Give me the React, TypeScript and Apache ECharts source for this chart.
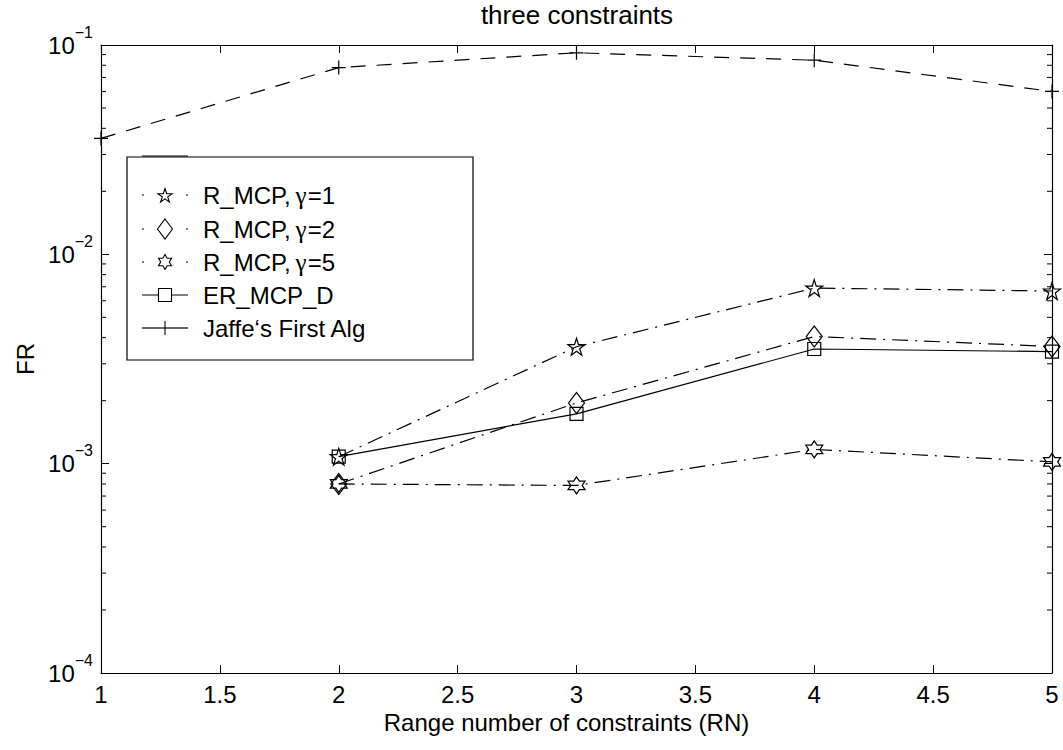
import React, { useEffect, useRef } from 'react';
import * as echarts from 'echarts';

// ---------- data ----------
const RN_ALL = [1, 2, 3, 4, 5];
const RN_SUB = [2, 3, 4, 5];
const JAFFE = [0.0358, 0.078, 0.0918, 0.0846, 0.06];
const R_MCP_G1 = [0.00108, 0.00362, 0.0069, 0.00668];
const R_MCP_G2 = [0.0008, 0.00195, 0.00405, 0.00363];
const R_MCP_G5 = [0.0008, 0.000787, 0.00117, 0.00102];
const ER_MCP_D = [0.00108, 0.00173, 0.00353, 0.00343];
const LEGEND_NAMES = ['R_MCP,γ=1', 'R_MCP,γ=2', 'R_MCP,γ=5', 'ER_MCP_D', 'Jaffe‘s First Alg'];
const Y_DECADES = [1e-4, 1e-3, 1e-2];
const MINOR_MULTS = [2, 3, 4, 5, 6, 7, 8, 9];

const FONT = 'Liberation Sans, Arial, Helvetica, sans-serif';
const SERIF = 'Liberation Serif, Times New Roman, serif';

function starPts(n: number, inner: number): number[][] {
  const pts: number[][] = [];
  for (let i = 0; i < 2 * n; i++) {
    const r = i % 2 === 0 ? 1 : inner;
    const a = -Math.PI / 2 + (i * Math.PI) / n;
    pts.push([r * Math.cos(a), r * Math.sin(a)]);
  }
  return pts;
}
const toPath = (pts: number[][]) =>
  'path://' + pts.map((p, i) => (i ? 'L' : 'M') + p[0].toFixed(4) + ',' + p[1].toFixed(4)).join('') + 'Z';

const STAR5 = starPts(5, 0.382);
const STAR6 = starPts(6, 0.577);
const DIAMOND = [[0, -1], [1, 0], [0, 1], [-1, 0]];
const PLUS_PATH = 'path://M0,-1L0,1M-1,0L1,0';

const DASH = [15, 11];
const DASHDOT = [16, 7, 2, 7];

export default function App() {
  const ref = useRef<HTMLDivElement>(null);
  useEffect(() => {
    if (!ref.current) return;
    const chart = echarts.init(ref.current, undefined, { renderer: 'svg' });

    const minorVals: number[] = [];
    Y_DECADES.forEach((d) => MINOR_MULTS.forEach((m) => minorVals.push(d * m)));

    const baseLine = (name: string, xs: number[], ys: number[], symbol: string, size: any, dash: any) => ({
      name,
      type: 'line',
      data: xs.map((x, i) => [x, ys[i]]),
      symbol,
      symbolSize: size,
      showSymbol: true,
      silent: true,
      lineStyle: { color: '#000', width: 1.2, type: dash },
      itemStyle: { color: 'rgba(0,0,0,0)', borderColor: '#000', borderWidth: 1.2 },
      z: 3,
    });

    const axisCommon = {
      axisLine: { show: true, onZero: false, lineStyle: { color: '#000', width: 1.2 } },
      axisTick: { show: true, inside: true, length: 8, lineStyle: { color: '#000', width: 1 } },
      splitLine: { show: false },
    };

    // legend graphic
    const LX = 127, LY = 157, LW = 346, LH = 203;
    const rowY = [195, 229, 262, 295, 328];
    const icX1 = 142, icX2 = 188, icC = 165, txX = 203;
    const poly = (pts: number[][], cx: number, cy: number, sx: number, sy: number) => ({
      type: 'polygon',
      shape: { points: pts.map((p) => [cx + p[0] * sx, cy + p[1] * sy]) },
      style: { fill: 'none', stroke: '#000', lineWidth: 1.1 },
    });
    const dot = (x: number, y: number) => ({
      type: 'line', shape: { x1: x, y1: y, x2: x + 2, y2: y }, style: { stroke: '#000', lineWidth: 1.2 },
    });
    const seg = (x1: number, x2: number, y: number) => ({
      type: 'line', shape: { x1, y1: y, x2, y2: y }, style: { stroke: '#000', lineWidth: 1.2 },
    });
    const legendChildren: any[] = [
      { type: 'rect', shape: { x: LX, y: LY, width: LW, height: LH }, style: { fill: '#fff', stroke: '#000', lineWidth: 1.2 } },
      seg(icX1, icX2, LY - 1),
      dot(icX1, rowY[0]), dot(icX2 - 2, rowY[0]), poly(STAR5, icC, rowY[0] + 1, 7.5, 7.5),
      dot(icX1, rowY[1]), dot(icX2 - 2, rowY[1]), poly(DIAMOND, icC, rowY[1], 7.5, 10),
      dot(icX1, rowY[2]), dot(icX2 - 2, rowY[2]), poly(STAR6, icC, rowY[2], 7.5, 7.5),
      seg(icX1, icX2, rowY[3]),
      { type: 'rect', shape: { x: icC - 6.5, y: rowY[3] - 6.5, width: 13, height: 13 }, style: { fill: '#fff', stroke: '#000', lineWidth: 1.1 } },
      seg(icX1, icX1 + 16, rowY[4]), seg(icX2 - 16, icX2, rowY[4]),
      seg(icC - 7, icC + 7, rowY[4]),
      { type: 'line', shape: { x1: icC, y1: rowY[4] - 7, x2: icC, y2: rowY[4] + 7 }, style: { stroke: '#000', lineWidth: 1.1 } },
    ];
    LEGEND_NAMES.forEach((n, i) => {
      const gi = n.indexOf('γ');
      const txt = gi >= 0
        ? `{a|${n.slice(0, gi)}}{g|γ}{a|${n.slice(gi + 1)}}`
        : `{a|${n}}`;
      legendChildren.push({
        type: 'text',
        style: {
          text: txt, x: txX, y: rowY[i], fill: '#000', verticalAlign: 'middle', align: 'left',
          rich: {
            a: { fontSize: 24, fontFamily: FONT, fill: '#000', color: '#000' },
            g: { fontSize: 25, fontFamily: SERIF, fill: '#000', color: '#000', padding: [0, 1, 0, 5] },
          },
        },
      });
    });

    const expLabel = (v: number) => {
      const e = Math.round(Math.log10(v));
      return `{b|10}{s|${e < 0 ? '−' : ''}${Math.abs(e)}}`;
    };

    chart.setOption({
      animation: false,
      backgroundColor: '#fff',
      textStyle: { fontFamily: FONT },
      title: {
        text: 'three constraints',
        left: 577,
        textAlign: 'center',
        top: 2,
        padding: 0,
        textStyle: { fontSize: 26, fontWeight: 'normal', color: '#000', fontFamily: FONT },
      },
      grid: { left: 101, right: 11, top: 45, bottom: 77, containLabel: false, outerBoundsMode: 'none' },
      xAxis: [
        {
          type: 'value', min: 1, max: 5, interval: 0.5, position: 'bottom',
          ...axisCommon,
          axisLabel: { show: true, color: '#000', fontSize: 24, fontFamily: FONT, margin: 9 },
          name: 'Range number of constraints (RN)',
          nameLocation: 'middle',
          nameGap: 37,
          nameTextStyle: { fontSize: 24, color: '#000', fontFamily: FONT, padding: [0, 20, 0, 0] },
        },
        {
          type: 'value', min: 1, max: 5, interval: 0.5, position: 'top',
          ...axisCommon,
          axisLabel: { show: false },
        },
      ],
      yAxis: [
        {
          type: 'log', logBase: 10, min: 1e-4, max: 1e-1, position: 'left',
          ...axisCommon,
          axisLabel: {
            show: true, color: '#000', margin: 8, formatter: expLabel,
            rich: {
              b: { fontSize: 24, fontFamily: FONT, color: '#000' },
              s: { fontSize: 16, fontFamily: FONT, color: '#000', padding: [0, 0, 26, 0] },
            },
          },
          name: 'FR',
          nameLocation: 'middle',
          nameGap: 62,
          nameTextStyle: { fontSize: 24, color: '#000', fontFamily: FONT },
        },
        {
          type: 'log', logBase: 10, min: 1e-4, max: 1e-1, position: 'right',
          ...axisCommon,
          axisLabel: { show: false },
        },
      ],
      graphic: [{ type: 'group', children: legendChildren, z: 100 }],
      series: [
        baseLine(LEGEND_NAMES[4], RN_ALL, JAFFE, PLUS_PATH, 14, DASH),
        baseLine(LEGEND_NAMES[0], RN_SUB, R_MCP_G1, toPath(STAR5), 17, DASHDOT),
        baseLine(LEGEND_NAMES[1], RN_SUB, R_MCP_G2, toPath(DIAMOND), [16, 21], DASHDOT),
        baseLine(LEGEND_NAMES[2], RN_SUB, R_MCP_G5, toPath(STAR6), 17, DASHDOT),
        baseLine(LEGEND_NAMES[3], RN_SUB, ER_MCP_D, 'rect', 13, 'solid'),
        {
          type: 'custom',
          silent: true,
          z: 4,
          data: minorVals.map((v) => [1, v]),
          renderItem: (params: any, api: any) => {
            const v = api.value(1);
            const l = api.coord([1, v]);
            const r = api.coord([5, v]);
            return {
              type: 'group',
              children: [
                { type: 'line', shape: { x1: l[0], y1: l[1], x2: l[0] + 5, y2: l[1] }, style: { stroke: '#000', lineWidth: 1 } },
                { type: 'line', shape: { x1: r[0] - 5, y1: r[1], x2: r[0], y2: r[1] }, style: { stroke: '#000', lineWidth: 1 } },
              ],
            };
          },
        },
      ],
    });
    return () => chart.dispose();
  }, []);
  return (
    <div
      ref={ref}
      style={{ position: 'absolute', left: 0, top: 0, width: 1063, height: 750, background: '#fff' }}
    />
  );
}
